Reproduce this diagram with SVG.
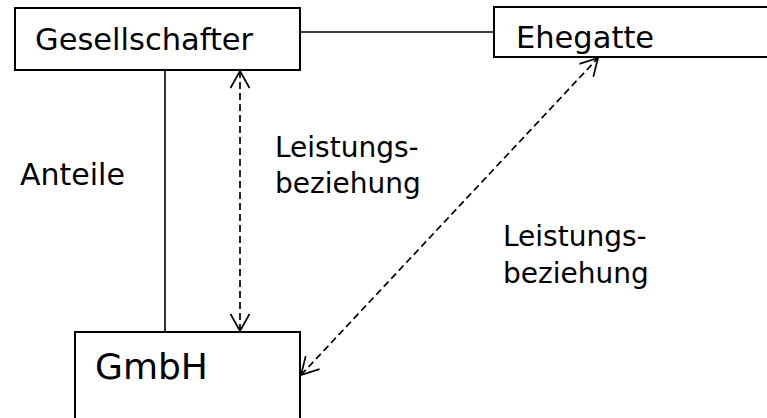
<svg xmlns="http://www.w3.org/2000/svg" width="767" height="418" viewBox="0 0 767 418">
  <style>
    .box { fill: #ffffff; stroke: #000000; stroke-width: 2; }
    .line { fill: none; stroke: #000000; stroke-width: 1.6; }
    .dash { fill: none; stroke: #000000; stroke-width: 1.7; stroke-dasharray: 7 4; }
    .label { font-family: "DejaVu Sans", Verdana, sans-serif; fill: #000000; }
  </style>
  <defs>
    <marker id="open-arrow" markerUnits="userSpaceOnUse" viewBox="-20 -11 22 22" refX="0" refY="0" markerWidth="22" markerHeight="22" orient="auto-start-reverse">
      <path d="M -17 -9.5 L 0 0 L -17 9.5" fill="none" stroke="#000000" stroke-width="1.7"/>
    </marker>
  </defs>

  <!-- connectors -->
  <g id="connectors">
    <line class="line" x1="300" y1="32" x2="494" y2="32"/>
    <line class="line" x1="165" y1="70" x2="165" y2="332"/>
    <line class="dash" x1="240" y1="71" x2="240" y2="331" marker-start="url(#open-arrow)" marker-end="url(#open-arrow)"/>
    <line class="dash" x1="301" y1="375" x2="598" y2="58" marker-start="url(#open-arrow)" marker-end="url(#open-arrow)"/>
  </g>

  <!-- nodes -->
  <g id="gesellschafter">
    <rect class="box" x="15" y="8" width="285" height="62"/>
    <text class="label" x="35" y="50" font-size="30.5">Gesellschafter</text>
  </g>
  <g id="ehegatte">
    <rect class="box" x="494" y="7" width="290" height="50"/>
    <text class="label" x="516" y="48" font-size="30.5">Ehegatte</text>
  </g>
  <g id="gmbh">
    <rect class="box" x="75" y="332" width="225" height="100"/>
    <text class="label" x="95" y="379" font-size="36">GmbH</text>
  </g>

  <!-- edge labels -->
  <g id="labels">
    <text class="label" x="20" y="185" font-size="30">Anteile</text>
    <text class="label" x="275" y="157" font-size="28">Leistungs-</text>
    <text class="label" x="275" y="193" font-size="28">beziehung</text>
    <text class="label" x="503" y="246" font-size="28">Leistungs-</text>
    <text class="label" x="503" y="283" font-size="28">beziehung</text>
  </g>
</svg>
